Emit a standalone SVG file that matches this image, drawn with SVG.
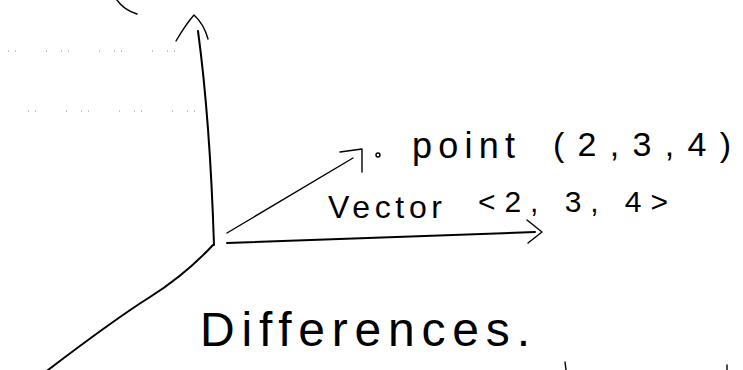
<svg xmlns="http://www.w3.org/2000/svg" width="743" height="370" viewBox="0 0 743 370">
<style>
.ink{fill:none;stroke:#000;stroke-width:2;stroke-linecap:round;stroke-linejoin:round}
.thin{fill:none;stroke:#000;stroke-width:1.4;stroke-linecap:round;stroke-linejoin:round}
.dots{fill:none;stroke:#8a8a8a;stroke-width:1;stroke-dasharray:1 6 1 30 1 14}
.hand{font-family:"Liberation Sans","DejaVu Sans",sans-serif;fill:#000}
</style>
<rect width="743" height="370" fill="#fff"/>
<g id="background-marks">
<path class="dots" d="M8,51 H186"/>
<path class="dots" d="M28,111 H206"/>
<path class="thin" d="M117,0 Q124,10 137,14"/>
<path class="thin" d="M565,362 L566,370 M727,365 L727,370"/>
</g>
<g id="axes">
<path class="ink" d="M198,31 Q210,120 214,245"/>
<path class="thin" d="M176,41 Q186,24 194,15 Q204,24 208,39"/>
<path class="ink" d="M213,245 Q185,275 150,297 T48,370"/>
</g>
<g id="connectors">
<path class="thin" d="M227,233 L353,158"/>
<path class="thin" d="M340,152 L362,149 L362,172"/>
<circle cx="378" cy="155" r="2" class="thin"/>
<path class="ink" d="M227,243 L535,232"/>
<path class="thin" d="M527,220 L542,232 L528,243"/>
</g>
<g id="label-point">
<text class="hand" x="412" y="158" font-size="36" textLength="103" lengthAdjust="spacing">point</text>
<text class="hand" x="553" y="156" font-size="34" textLength="178" lengthAdjust="spacing">(2,3,4)</text>
</g>
<g id="label-vector">
<text class="hand" x="328" y="218" font-size="32" textLength="114" lengthAdjust="spacing">Vector</text>
<text class="hand" x="478" y="212" font-size="30" textLength="190" lengthAdjust="spacing">&lt;2, 3, 4&gt;</text>
</g>
<g id="label-differences">
<text class="hand" x="200" y="346" font-size="48" textLength="330" lengthAdjust="spacing">Differences.</text>
</g>
</svg>
